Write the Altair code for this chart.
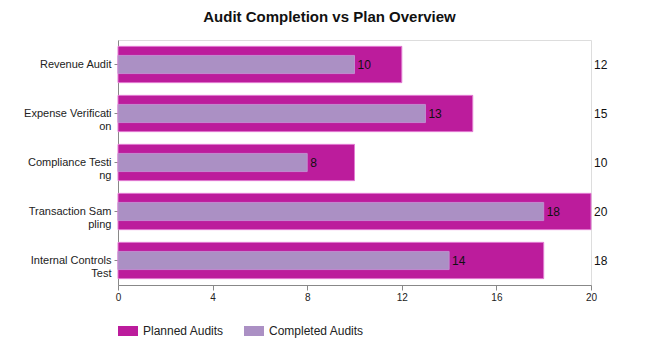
import altair as alt
import pandas as pd

categories = ["Revenue Audit", "Expense Verification", "Compliance Testing",
              "Transaction Sampling", "Internal Controls Test"]
label_lines = [["Revenue Audit"], ["Expense Verificati", "on"], ["Compliance Testi", "ng"],
               ["Transaction Sam", "pling"], ["Internal Controls ", "Test"]]
planned = [12, 15, 10, 20, 18]
completed = [10, 13, 8, 18, 14]
series = ["Planned Audits", "Completed Audits"]
colors = ["#BC1C9C", "#AB90C4"]
x_ticks = [0, 4, 8, 12, 16, 20]

rows = []
for c, p, d in zip(categories, planned, completed):
    rows.append({"category": c, "series": series[0], "value": p})
    rows.append({"category": c, "series": series[1], "value": d})
df = pd.DataFrame(rows)

label_map = {c: l for c, l in zip(categories, label_lines)}
label_expr = "{" + ",".join(
    '"%s":[%s]' % (c, ",".join('"%s"' % s for s in l)) for c, l in label_map.items()
) + "}[datum.label]"

font = "Liberation Sans"

y_enc = alt.Y("category:N", sort=categories, title=None,
              scale=alt.Scale(paddingInner=0.26, paddingOuter=0.13),
              axis=alt.Axis(labelExpr=label_expr, labelFont=font, labelFontSize=11,
                            labelColor="#222", domainColor="#888", tickColor="#888",
                            tickSize=4, labelPadding=3, labelLimit=200))
x_enc = alt.X("value:Q", title=None,
              scale=alt.Scale(domain=[0, 20], nice=False),
              axis=alt.Axis(values=x_ticks, grid=False, labelFont=font, labelFontSize=10,
                            labelColor="#222", domainColor="#888", tickColor="#888",
                            tickSize=5, labelFlush=False))
color_enc = alt.Color("series:N", sort=series,
                      scale=alt.Scale(domain=series, range=colors),
                      legend=alt.Legend(title=None, orient="none", direction="horizontal",
                                        legendX=0, legendY=281,
                                        symbolType="M-1,-0.5H1V0.5H-1Z",
                                        symbolSize=400, symbolStrokeWidth=0,
                                        symbolOpacity=1,
                                        labelFont=font, labelFontSize=12, labelColor="#222",
                                        labelOffset=5, columnPadding=20))

base = alt.Chart(df)

planned_bars = base.transform_filter(alt.datum.series == series[0]).mark_bar(
    stroke="#E27CD2", strokeWidth=1, opacity=1
).encode(y=y_enc, x=x_enc, color=color_enc)

completed_bars = base.transform_filter(alt.datum.series == series[1]).mark_bar(
    height={"band": 0.5}, stroke="#C28BD0", strokeWidth=1, opacity=1
).encode(y=y_enc, x=x_enc, color=color_enc)

completed_text = base.transform_filter(alt.datum.series == series[1]).mark_text(
    align="left", baseline="middle", dx=3, font=font, fontSize=12, color="#111"
).encode(y=y_enc, x=x_enc, text="value:Q")

planned_text = base.transform_filter(alt.datum.series == series[0]).mark_text(
    align="left", baseline="middle", dx=3, font=font, fontSize=12, color="#111"
).encode(y=y_enc, x=alt.datum(20), text="value:Q")

chart = alt.layer(planned_bars, completed_bars, completed_text, planned_text).properties(
    width=473, height=245,
    title=alt.TitleParams("Audit Completion vs Plan Overview", font=font, fontSize=15,
                          fontWeight="bold", color="#111", anchor="middle", dx=-25,
                          offset=15, frame="group"),
    autosize=alt.AutoSizeParams(type="none"),
    padding={"left": 118, "top": 40, "right": 58, "bottom": 67},
).configure_view(stroke=None).configure(background="white")

chart.save("out.html", embed_options={"renderer": "svg", "actions": False})
